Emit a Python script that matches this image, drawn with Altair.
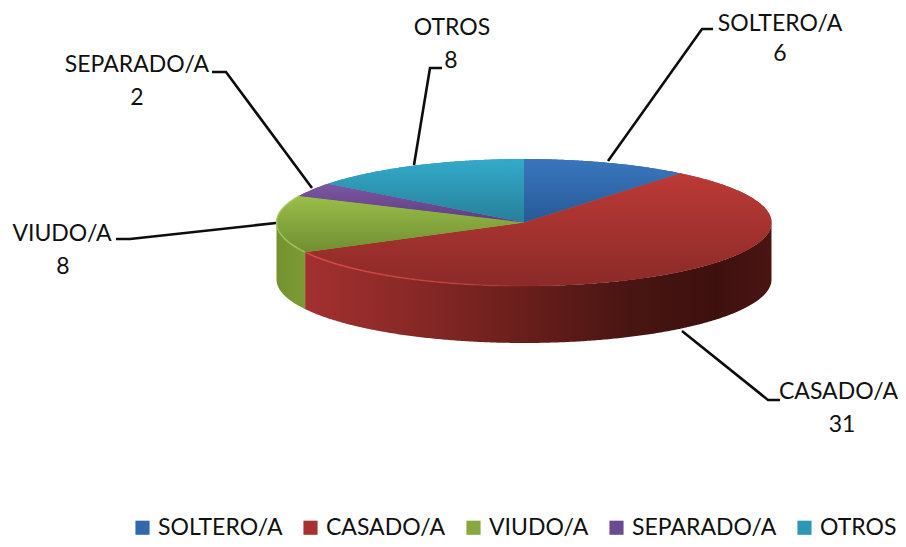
import math
import altair as alt
import pandas as pd

# ---- chart values ----
categories = ["SOLTERO/A", "CASADO/A", "VIUDO/A", "SEPARADO/A", "OTROS"]
values = [6, 31, 8, 2, 8]
solid_colors = ["#3269ab", "#a8302e", "#86a83c", "#6b4a92", "#2e97b5"]
top_gradients = [
    ("#3a76be", "#265a96"),
    ("#bc3a37", "#8b2a27"),
    ("#99be48", "#718e32"),
    ("#7c56a3", "#5d3e7f"),
    ("#33aaca", "#27809a"),
]

# ---- layout (page pixels) ----
W, H = 890, 531
CX, CY, RX, RY, DEPTH = 524, 222.5, 247.5, 63.5, 57
label_pos = {
    "SOLTERO/A": (780, 24, 780, 54),
    "CASADO/A": (838.5, 392, 842, 425),
    "VIUDO/A": (62, 234, 63, 267),
    "SEPARADO/A": (137, 65, 137, 98),
    "OTROS": (452, 28, 451, 61),
}
leaders = {
    "SOLTERO/A": [(608, 161), (702, 29), (713, 29)],
    "CASADO/A": [(682, 331), (768, 400), (780, 400)],
    "VIUDO/A": [(276, 223), (130, 239), (116, 239)],
    "SEPARADO/A": [(312, 188), (226, 72), (212, 72)],
    "OTROS": [(414, 165), (430, 68), (442, 68)],
}


def pt(t, dy=0.0):
    a = math.radians(t)
    return [CX + RX * math.sin(a), CY - RY * math.cos(a) + dy]


def arc(t0, t1, dy=0.0):
    n = max(2, int(abs(t1 - t0)) * 2)
    return [pt(t0 + (t1 - t0) * i / n, dy) for i in range(n + 1)]


def feature(coords, name="", kind="Polygon"):
    geom = coords if kind == "LineString" else [coords]
    return {"type": "Feature", "properties": {"name": name},
            "geometry": {"type": kind, "coordinates": geom}}


def wall(t0, t1):
    c = arc(t0, t1) + arc(t1, t0, DEPTH)
    return feature(c + [c[0]])


def vgrad(a, b):
    return alt.Gradient(gradient="linear", x1=0, x2=0, y1=0, y2=1,
                        stops=[alt.GradientStop(color=a, offset=0),
                               alt.GradientStop(color=b, offset=1)])


def hgrad(stops):
    return alt.Gradient(gradient="linear", x1=0, x2=1, y1=0, y2=0,
                        stops=[alt.GradientStop(color=c, offset=o) for o, c in stops])


total = sum(values)
edges = [0.0]
for v in values:
    edges.append(edges[-1] + v / total * 360)

proj = alt.Projection(type="identity", scale=1, translate=[-8, -8])
xs = alt.Scale(domain=[8, 8 + W], range=[0, W])
ys = alt.Scale(domain=[8, 8 + H], range=[0, H])


def geo(features):
    return alt.Chart(alt.Data(values=features)).project(**proj.to_dict())


layers = []

# side walls
layers.append(geo([wall(90, edges[2])]).mark_geoshape(
    strokeWidth=0,
    fill=hgrad([(0, "#a33030"), (0.2, "#8c2a28"), (0.45, "#6b1f1c"), (0.7, "#481512"),
                (0.88, "#3d100e"), (1, "#4a1512")])))
layers.append(geo([wall(edges[2], 270)]).mark_geoshape(
    strokeWidth=0, fill=hgrad([(0, "#73932f"), (1, "#7c9b35")])))

# top surface: flat base, carries the legend
tops = []
for i, name in enumerate(categories):
    c = [[CX, CY]] + arc(edges[i], edges[i + 1]) + [[CX, CY]]
    tops.append(feature(c, name))

layers.append(geo(tops).mark_geoshape(strokeWidth=0).encode(
    color=alt.Color(
        "properties.name:N",
        scale=alt.Scale(domain=categories, range=solid_colors),
        legend=alt.Legend(
            title=None, orient="none", direction="horizontal", columns=5,
            legendX=123, legendY=508, symbolType="square", symbolSize=200,
            symbolStrokeWidth=0, labelFont="Lato", labelFontSize=23,
            labelColor="#111111", labelOffset=4, columnPadding=16,
            labelLimit=300, padding=0,
        ),
    )
))

# shaded overlay
for i, f in enumerate(tops):
    layers.append(geo([f]).mark_geoshape(strokeWidth=0, fill=vgrad(*top_gradients[i])))

# rim highlights on the front edge
layers.append(geo([feature(arc(edges[2], 170), kind="LineString")]).mark_geoshape(
    filled=False, strokeWidth=1.6,
    stroke=hgrad([(0, "rgba(220,75,70,0.95)"), (0.6, "rgba(205,70,65,0.6)"), (1, "rgba(140,40,38,0)")])))
layers.append(geo([feature(arc(edges[2], 295), kind="LineString")]).mark_geoshape(
    filled=False, strokeWidth=1.6, stroke="#a6ca5c", opacity=0.8))

# leader lines
rows = []
for name, pts in leaders.items():
    for k, (x, y) in enumerate(pts):
        rows.append({"name": name, "k": k, "x": x, "y": y})
layers.append(alt.Chart(pd.DataFrame(rows)).mark_line(color="#0d0d0d", strokeWidth=2.6).encode(
    x=alt.X("x:Q", scale=xs, axis=None),
    y=alt.Y("y:Q", scale=ys, axis=None),
    detail="name:N", order="k:Q"))

# labels
lab = pd.DataFrame([
    {"name": n, "value": str(v), "x": label_pos[n][0], "y": label_pos[n][1],
     "x2": label_pos[n][2], "y2": label_pos[n][3]}
    for n, v in zip(categories, values)])
layers.append(alt.Chart(lab).mark_text(font="Lato", fontSize=23, color="#111111").encode(
    x=alt.X("x:Q", scale=xs, axis=None), y=alt.Y("y:Q", scale=ys, axis=None), text="name:N"))
layers.append(alt.Chart(lab).mark_text(font="Lato", fontSize=23, color="#111111").encode(
    x=alt.X("x2:Q", scale=xs, axis=None), y=alt.Y("y2:Q", scale=ys, axis=None), text="value:N"))

chart = alt.layer(*layers).properties(
    width=W, height=H, padding=0,
    autosize=alt.AutoSizeParams(type="none"),
).configure_view(stroke=None)

chart.save("out.html", embed_options={"renderer": "svg", "actions": False})
